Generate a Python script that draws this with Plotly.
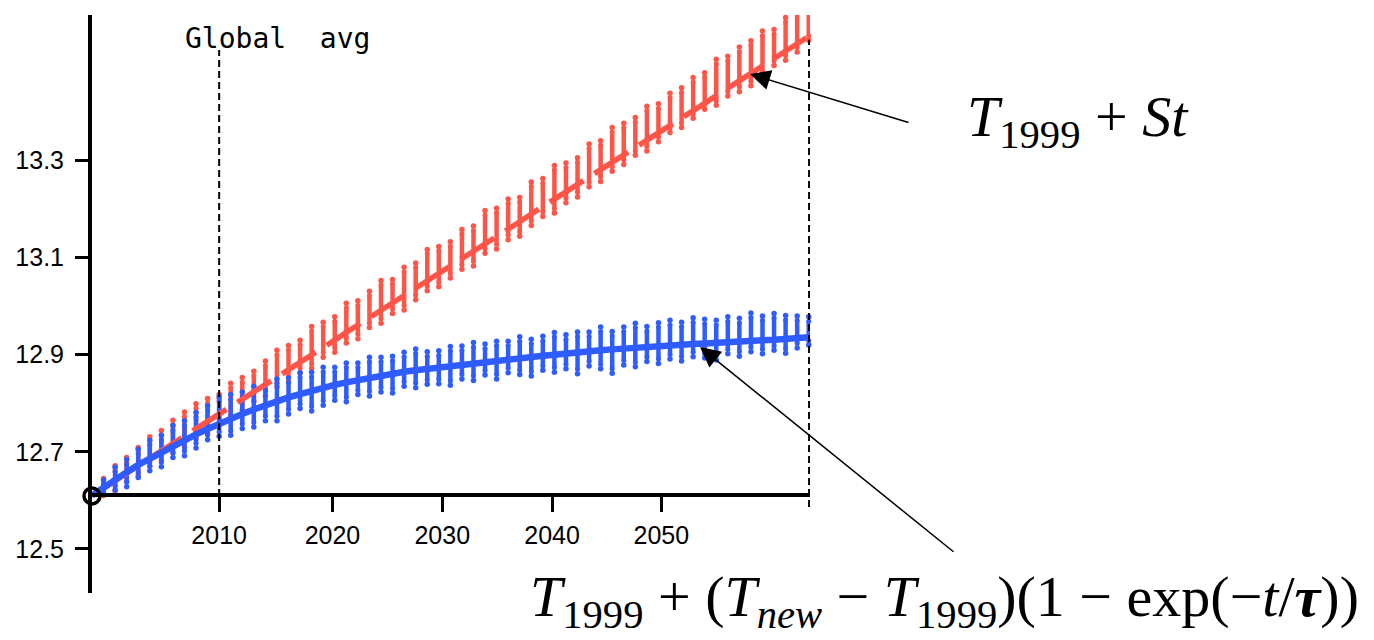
import plotly.graph_objects as go

# ---------------- data ----------------
t_vals = list(range(0, 63))          # years since 1999 (column index)

red_line = [12.610, 12.625, 12.641, 12.656, 12.671, 12.686, 12.702, 12.717, 12.732, 12.747,
            12.763, 12.778, 12.793, 12.808, 12.824, 12.839, 12.854, 12.869, 12.885, 12.900,
            12.915, 12.930, 12.946, 12.961, 12.976, 12.991, 13.007, 13.022, 13.037, 13.052,
            13.068, 13.083, 13.098, 13.113, 13.129, 13.144, 13.159, 13.174, 13.190, 13.205,
            13.220, 13.235, 13.251, 13.266, 13.281, 13.296, 13.312, 13.327, 13.342, 13.357,
            13.373, 13.388, 13.403, 13.418, 13.434, 13.449, 13.464, 13.479, 13.495, 13.510,
            13.525, 13.540, 13.556]

blue_line = [12.610, 12.627, 12.643, 12.658, 12.673, 12.686, 12.699, 12.712, 12.724, 12.736,
             12.747, 12.758, 12.768, 12.778, 12.787, 12.796, 12.804, 12.812, 12.819, 12.826,
             12.832, 12.838, 12.843, 12.848, 12.853, 12.857, 12.861, 12.865, 12.868, 12.871,
             12.874, 12.877, 12.880, 12.883, 12.886, 12.888, 12.891, 12.893, 12.896, 12.898,
             12.900, 12.903, 12.905, 12.907, 12.909, 12.911, 12.913, 12.915, 12.916, 12.918,
             12.919, 12.921, 12.922, 12.923, 12.925, 12.926, 12.927, 12.929, 12.930, 12.931,
             12.933, 12.934, 12.936]

# spread of the ensemble dots below / above the line, columns t = 1..62
red_below = [0.015, 0.022, 0.018, 0.020, 0.016, 0.020, 0.018, 0.022, 0.020, 0.025,
             0.020, 0.018, 0.022, 0.020, 0.024, 0.020, 0.025, 0.022, 0.028, 0.020,
             0.025, 0.022, 0.028, 0.020, 0.026, 0.022, 0.030, 0.024, 0.020, 0.028,
             0.025, 0.022, 0.030, 0.020, 0.026, 0.022, 0.030, 0.024, 0.020, 0.028,
             0.022, 0.026, 0.020, 0.024, 0.018, 0.020, 0.016, 0.022, 0.018, 0.015,
             0.020, 0.016, 0.012, 0.020, 0.016, 0.022, 0.025, 0.023, 0.014, 0.018,
             0.016, 0.008]
red_above = [0.020, 0.030, 0.032, 0.038, 0.045, 0.042, 0.048, 0.050, 0.052, 0.047,
             0.040, 0.048, 0.045, 0.042, 0.048, 0.055, 0.050, 0.045, 0.058, 0.052,
             0.048, 0.060, 0.050, 0.055, 0.062, 0.048, 0.058, 0.052, 0.065, 0.055,
             0.050, 0.060, 0.052, 0.068, 0.058, 0.062, 0.050, 0.066, 0.058, 0.070,
             0.060, 0.055, 0.068, 0.060, 0.072, 0.065, 0.062, 0.070, 0.060, 0.066,
             0.062, 0.068, 0.063, 0.075, 0.066, 0.070, 0.068, 0.072, 0.060, 0.070,
             0.071, 0.062]
blue_below = [0.012, 0.022, 0.030, 0.026, 0.025, 0.030, 0.024, 0.032, 0.028, 0.022,
              0.026, 0.034, 0.030, 0.036, 0.032, 0.040, 0.034, 0.030, 0.042, 0.036,
              0.032, 0.040, 0.030, 0.038, 0.034, 0.040, 0.030, 0.036, 0.032, 0.034,
              0.040, 0.030, 0.036, 0.028, 0.038, 0.028, 0.034, 0.040, 0.030, 0.036,
              0.032, 0.044, 0.030, 0.038, 0.049, 0.034, 0.040, 0.030, 0.036, 0.028,
              0.034, 0.026, 0.030, 0.036, 0.024, 0.030, 0.023, 0.028, 0.022, 0.030,
              0.020, 0.016]
blue_above = [0.015, 0.025, 0.026, 0.032, 0.038, 0.035, 0.042, 0.040, 0.045, 0.048,
              0.055, 0.050, 0.045, 0.048, 0.042, 0.046, 0.040, 0.044, 0.038, 0.042,
              0.036, 0.040, 0.035, 0.042, 0.038, 0.036, 0.040, 0.044, 0.035, 0.034,
              0.040, 0.038, 0.042, 0.036, 0.040, 0.037, 0.044, 0.036, 0.040, 0.046,
              0.038, 0.042, 0.040, 0.048, 0.037, 0.044, 0.050, 0.042, 0.048, 0.052,
              0.046, 0.054, 0.050, 0.046, 0.052, 0.048, 0.057, 0.050, 0.054, 0.048,
              0.046, 0.042]

x_tick_pos = [11.0, 20.8, 30.3, 39.8, 49.25]
x_tick_labels = ["2010", "2020", "2030", "2040", "2050"]
y_ticks = [12.5, 12.7, 12.9, 13.1, 13.3]
y_tick_labels = ["12.5", "12.7", "12.9", "13.1", "13.3"]

T1999 = 12.609
X_RANGE = [0, 62.11]
Y_RANGE = [12.409, 13.600]

RED = "#FF5448"
BLUE = "#2F5CFF"
GAP = 0.009   # visual gap between the dense core and the outlying end dots


def column_cores(line, below, above):
    xs, ys = [], []
    for i, t in enumerate(t_vals[1:]):
        c = line[i + 1]
        xs += [t, t, None]
        ys += [c - below[i] + GAP, c + above[i] - GAP, None]
    return xs, ys


def column_ends(line, below, above):
    xs, ys = [], []
    for i, t in enumerate(t_vals[1:]):
        c = line[i + 1]
        xs += [t, t]
        ys += [c - below[i], c + above[i]]
    return xs, ys


fig = go.Figure()

for line, below, above, col in [(red_line, red_below, red_above, RED),
                                (blue_line, blue_below, blue_above, BLUE)]:
    cx, cy = column_cores(line, below, above)
    ex, ey = column_ends(line, below, above)
    fig.add_trace(go.Scatter(x=cx, y=cy, mode="lines+markers",
                             line=dict(color=col, width=4.5), marker=dict(color=col, size=5),
                             cliponaxis=False, hoverinfo="skip"))
    fig.add_trace(go.Scatter(x=ex, y=ey, mode="markers",
                             marker=dict(color=col, size=5.5),
                             cliponaxis=False, hoverinfo="skip"))

fig.add_trace(go.Scatter(x=t_vals[1:], y=red_line[1:], mode="lines",
                         line=dict(color=RED, width=5.5, dash="40px,13px"),
                         cliponaxis=False, hoverinfo="skip"))
fig.add_trace(go.Scatter(x=t_vals, y=blue_line, mode="lines",
                         line=dict(color=BLUE, width=6.5),
                         cliponaxis=False, hoverinfo="skip"))
fig.add_trace(go.Scatter(x=[0], y=[T1999], mode="markers",
                         marker=dict(symbol="circle-open", size=16, color="black",
                                     line=dict(width=3.5, color="black")),
                         cliponaxis=False, hoverinfo="skip"))

# dashed vertical guides
fig.add_shape(type="line", xref="x", yref="y", x0=11.0, x1=11.0, y0=T1999, y1=13.528,
              line=dict(color="black", width=2, dash="7px,4px"))
fig.add_shape(type="line", xref="x", yref="y", x0=62.03, x1=62.03, y0=12.586, y1=13.549,
              line=dict(color="black", width=2, dash="7px,4px"))


def px_x(px):
    return (px - 92) / 718.0


def px_y(py):
    return (593 - py) / 578.0


ann = []
ann.append(dict(text="Global\u00a0\u00a0avg", xref="paper", yref="paper",
                x=px_x(183), y=px_y(39), xanchor="left", yanchor="middle",
                showarrow=False, font=dict(family="DejaVu Sans Mono", size=28, color="black")))
ann.append(dict(text="<i>T</i><sub>1999</sub> + <i>St</i>", xref="paper", yref="paper",
                x=px_x(965), y=px_y(120), xanchor="left", yanchor="middle",
                showarrow=False, font=dict(family="Liberation Serif", size=58, color="black")))
ann.append(dict(text="<i>T</i><sub>1999</sub> + (<i>T</i><sub><i>new</i></sub> \u2212 <i>T</i><sub>1999</sub>)(1 \u2212 exp(\u2212<i>t</i>/<b><i>\u03c4</i></b>))",
                xref="paper", yref="paper",
                x=px_x(528), y=px_y(600), xanchor="left", yanchor="middle",
                showarrow=False, font=dict(family="Liberation Serif", size=58, color="black")))
# arrows
ann.append(dict(text="", xref="paper", yref="paper", x=px_x(750), y=px_y(74),
                ax=160, ay=49, showarrow=True, arrowhead=2, arrowsize=2.7,
                arrowwidth=1.5, arrowcolor="black", standoff=0))
ann.append(dict(text="", xref="paper", yref="paper", x=px_x(700), y=px_y(347),
                ax=255, ay=206, showarrow=True, arrowhead=2, arrowsize=2.7,
                arrowwidth=1.5, arrowcolor="black", standoff=0))

tick_font = dict(family="Liberation Sans", size=25, color="black")

fig.update_layout(
    width=1374, height=640,
    margin=dict(l=92, r=564, t=15, b=47),
    paper_bgcolor="white", plot_bgcolor="white",
    showlegend=False,
    annotations=ann,
    xaxis=dict(range=X_RANGE, anchor="free", position=(593 - 495) / 578.0,
               showline=True, linewidth=4, linecolor="black",
               ticks="outside", ticklen=15, tickwidth=2.5, tickcolor="black",
               tickvals=x_tick_pos, ticktext=x_tick_labels, tickfont=tick_font,
               ticklabelstandoff=2,
               showgrid=False, zeroline=False, fixedrange=True),
    yaxis=dict(range=Y_RANGE, showline=True, linewidth=4, linecolor="black",
               ticks="outside", ticklen=13, tickwidth=2.5, tickcolor="black",
               tickvals=y_ticks, ticktext=y_tick_labels, tickfont=tick_font,
               ticklabelstandoff=6,
               showgrid=False, zeroline=False, fixedrange=True),
)

fig.write_html("out.html")
